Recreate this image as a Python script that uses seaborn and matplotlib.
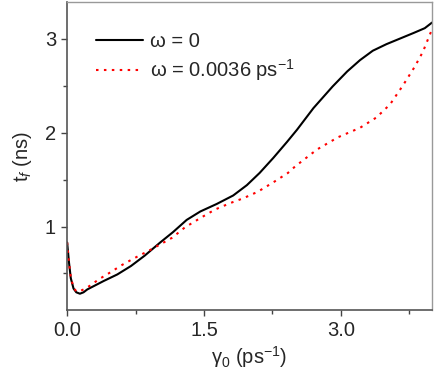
import pandas as pd
import matplotlib.pyplot as plt
import seaborn as sns

# values
gamma_w0 = [0.00, 0.02, 0.04, 0.07, 0.10, 0.14, 0.18, 0.22, 0.30, 0.40, 0.55, 0.70, 0.85, 1.02,
            1.16, 1.31, 1.46, 1.64, 1.82, 1.97, 2.11, 2.26, 2.41, 2.52, 2.70, 2.91, 3.07, 3.21,
            3.35, 3.50, 3.65, 3.80, 3.92, 4.00]
tf_w0 = [0.83, 0.62, 0.45, 0.34, 0.30, 0.285, 0.30, 0.33, 0.37, 0.42, 0.49, 0.58, 0.69, 0.83,
         0.94, 1.07, 1.16, 1.24, 1.33, 1.44, 1.57, 1.73, 1.90, 2.03, 2.26, 2.49, 2.65, 2.77,
         2.87, 2.94, 3.00, 3.06, 3.11, 3.17]

gamma_w1 = [0.00, 0.02, 0.04, 0.07, 0.10, 0.13, 0.18, 0.25, 0.35, 0.47, 0.60, 0.73, 0.91, 1.15,
            1.29, 1.46, 1.62, 1.79, 1.93, 2.09, 2.26, 2.42, 2.50, 2.74, 2.97, 3.21, 3.39, 3.54,
            3.68, 3.81, 3.90, 4.00]
tf_w1 = [0.83, 0.62, 0.46, 0.35, 0.31, 0.31, 0.33, 0.37, 0.44, 0.51, 0.59, 0.66, 0.75, 0.88,
         0.99, 1.09, 1.18, 1.25, 1.30, 1.37, 1.47, 1.57, 1.64, 1.82, 1.95, 2.05, 2.16, 2.30,
         2.50, 2.70, 2.86, 3.10]

labels = ['ω = 0', 'ω = 0.0036 ps$^{-1}$']
x_ticks = [0.0, 1.5, 3.0]
x_tick_labels = ['0.0', '1.5', '3.0']
y_ticks = [1, 2, 3]

df = pd.concat([
    pd.DataFrame({'gamma': gamma_w0, 'tf': tf_w0, 'series': labels[0]}),
    pd.DataFrame({'gamma': gamma_w1, 'tf': tf_w1, 'series': labels[1]}),
])

sns.set_style('ticks')
plt.rcParams['font.family'] = ['Liberation Sans', 'DejaVu Sans']
plt.rcParams['mathtext.fontset'] = 'custom'
plt.rcParams['mathtext.rm'] = 'Liberation Sans'
plt.rcParams['mathtext.it'] = 'Liberation Sans:italic'

fig = plt.figure(figsize=(4.36, 3.71), dpi=100)
ax = fig.add_axes([0.154, 0.164, 0.837, 0.831])

sns.lineplot(data=df, x='gamma', y='tf', hue='series', style='series',
             palette={labels[0]: 'black', labels[1]: '#ff0000'},
             dashes={labels[0]: '', labels[1]: (1.2, 2.6)},
             sort=False, estimator=None, linewidth=1.5, ax=ax)

ax.set_xlim(0, 4.0)
ax.set_ylim(0.11, 3.39)
ax.set_xticks(x_ticks)
ax.set_xticklabels(x_tick_labels)
ax.set_xticks([0.75, 2.25, 3.75], minor=True)
ax.set_yticks(y_ticks)
ax.set_yticks([0.5, 1.5, 2.5], minor=True)
ax.tick_params(axis='both', which='major', labelsize=14.5, length=4, width=1, color='#444444', pad=4)
ax.tick_params(axis='both', which='minor', length=3, width=1, color='#444444')

for side in ['left', 'bottom']:
    ax.spines[side].set_color('#555555')
    ax.spines[side].set_linewidth(1.2)
for side in ['top', 'right']:
    ax.spines[side].set_color('#999999')
    ax.spines[side].set_linewidth(1.0)

ax.set_xlabel('γ$_0$ (ps$^{-1}$)', fontsize=14.5, labelpad=3)
ax.set_ylabel('t$_{\\it f}$ (ns)', fontsize=14.5, labelpad=8)

ax.legend(loc='upper left', bbox_to_anchor=(0.03, 0.96), frameon=False, fontsize=14.5,
          handlelength=2.3, handletextpad=0.35, labelspacing=0.3, title=None)

fig.savefig('out.png', dpi=100)
